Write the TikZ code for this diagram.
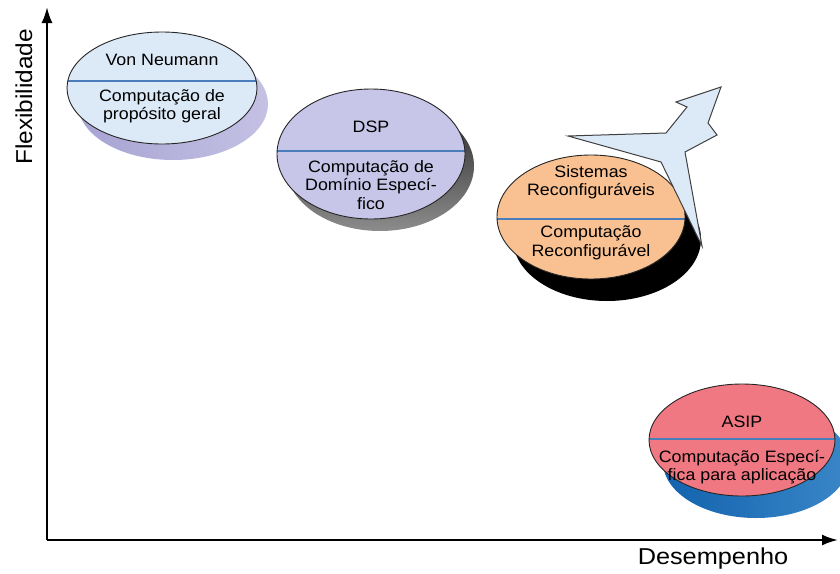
\documentclass[tikz,border=0pt]{standalone}
\usepackage{fontspec}
\setmainfont{Liberation Sans}
\usetikzlibrary{shapes.geometric,arrows.meta}

\definecolor{vnfill}{HTML}{DCE9F6}
\definecolor{vnshadeA}{HTML}{A7A3D3}
\definecolor{vnshadeB}{HTML}{C4C1E4}
\definecolor{dspfill}{HTML}{C8C6E8}
\definecolor{dspshadeA}{HTML}{262626}
\definecolor{dspshadeB}{HTML}{8C8C8C}
\definecolor{rcfill}{HTML}{F9C192}
\definecolor{asipfill}{HTML}{F07882}
\definecolor{asipshadeA}{HTML}{1263AD}
\definecolor{asipshadeB}{HTML}{3A86C8}
\definecolor{divblue}{HTML}{4A7EBB}
\definecolor{arrowfill}{HTML}{DCE9F6}

\begin{document}
\begin{tikzpicture}[x=1pt,y=-1pt,
  blob/.style={ellipse, draw=black!85, line width=0.9pt, inner sep=0pt},
  split/.style={path picture={
      \draw[divblue, line width=1.1pt]
        ([yshift=#1]path picture bounding box.west) --
        ([yshift=#1]path picture bounding box.east);}},
  lbl/.style={font=\fontsize{16.5}{18.5}\selectfont, align=center, inner sep=0pt, xscale=1.08},
  axislbl/.style={font=\fontsize{23}{27}\selectfont, inner sep=0pt},
  axis/.style={line width=2.2pt, -{Latex[length=16pt,width=11pt]}},
  bigarrow/.style={fill=arrowfill, draw=black!75, line width=1pt, line join=miter}
]
\useasboundingbox (0,0) rectangle (840,573);

% centres of the four ellipses
\coordinate (vnc) at (162,88);
\coordinate (dspc) at (371,154);
\coordinate (rcc) at (591,217);
\coordinate (asipc) at (742,440);

% drop shadows
\shade[left color=vnshadeA, right color=vnshadeB]
  ([shift={(11,16)}]vnc) ellipse [x radius=95pt, y radius=56pt];
\shade[shading angle=30, top color=dspshadeA, bottom color=dspshadeB]
  ([shift={(9,12)}]dspc) ellipse [x radius=94pt, y radius=65pt];
\fill[black]
  ([shift={(16,22)}]rcc) ellipse [x radius=94pt, y radius=62pt];
\shade[left color=asipshadeA, right color=asipshadeB]
  ([shift={(14,22)}]asipc) ellipse [x radius=93pt, y radius=56pt];

% ellipses with their dividing line
\node[blob, fill=vnfill, minimum width=190pt, minimum height=112pt, split=7pt] (vn) at (vnc) {};
\node[blob, fill=dspfill, minimum width=188pt, minimum height=130pt, split=3pt] (dsp) at (dspc) {};
\node[blob, fill=rcfill, minimum width=188pt, minimum height=124pt, split=-2pt] (rc) at (rcc) {};
\node[blob, fill=asipfill, minimum width=186pt, minimum height=112pt, split=1pt] (asip) at (asipc) {};

% texts
\node[lbl] (vnt) at (162,60) {Von Neumann};
\node[lbl] (vnb) at (162,106) {Computação de\\propósito geral};
\node[lbl] (dspt) at (371,127) {DSP};
\node[lbl] (dspb) at (371,185) {Computação de\\Domínio Especí-\\fico};
\node[lbl] (rct) at (591,182) {Sistemas\\Reconfiguráveis};
\node[lbl] (rcb) at (591,243) {Computação\\Reconfigurável};
\node[lbl] (asipt) at (742,422) {ASIP};
\node[lbl] (asipb) at (742,467) {Computação Especí-\\fica para aplicação};

% trend arrow
\draw[bigarrow] (721,87) -- (676,102) -- (687,107) -- (666,133) -- (568,136)
  -- (661,162) -- (702,246) -- (685,152) -- (717,135) -- (708,123) -- cycle;

% axes
\coordinate (origin) at (47,540);
\coordinate (ytip) at (47,7);
\coordinate (xtip) at (838,540);
\draw[axis] (origin) -- (ytip);
\draw[axis] (origin) -- (xtip);
\node[axislbl, rotate=90, xscale=1.06] (ylab) at (24,97) {Flexibilidade};
\node[axislbl, xscale=1.1] (xlab) at (713,559) {Desempenho};
\end{tikzpicture}
\end{document}
